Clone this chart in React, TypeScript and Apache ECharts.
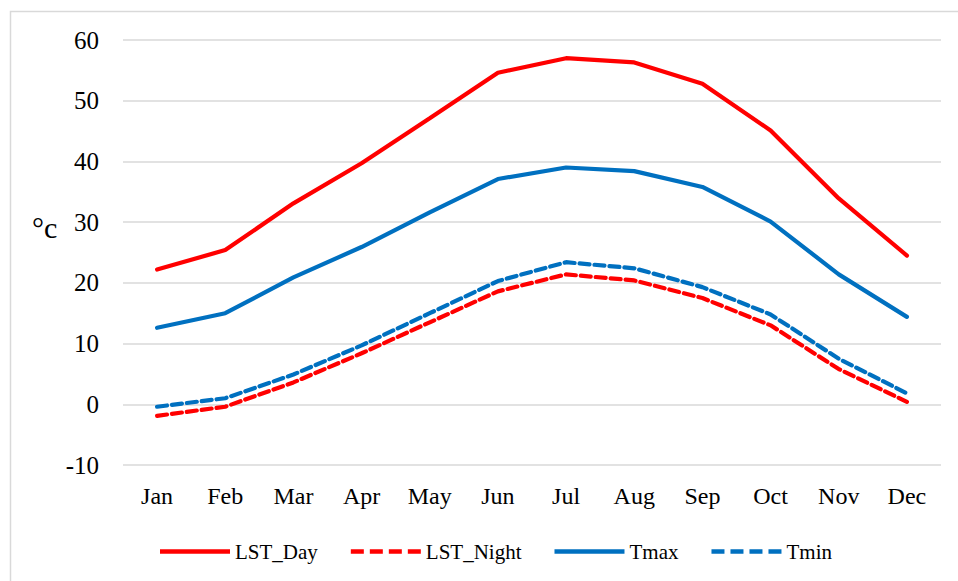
import React, { useEffect, useRef } from "react";
import * as echarts from "echarts";

const months = ["Jan", "Feb", "Mar", "Apr", "May", "Jun", "Jul", "Aug", "Sep", "Oct", "Nov", "Dec"];
const lstDay = [22.2, 25.4, 33.1, 39.7, 47.1, 54.6, 57.0, 56.3, 52.8, 45.1, 33.9, 24.5];
const lstNight = [-1.9, -0.4, 3.6, 8.4, 13.5, 18.6, 21.4, 20.4, 17.5, 13.0, 5.8, 0.4];
const tmax = [12.6, 15.0, 20.9, 25.9, 31.6, 37.1, 39.0, 38.4, 35.8, 30.1, 21.4, 14.4];
const tmin = [-0.4, 1.0, 4.9, 9.7, 15.0, 20.3, 23.4, 22.4, 19.3, 14.8, 7.5, 1.8];
const unitLabel = "°c";

const FONT = "Liberation Serif, Times New Roman, serif";
const RED = "#FF0000";
const BLUE = "#0070C0";
const SOLID_ICON = "path://M0,0H70V4.5H0Z";
const DASH_ICON = "path://M0,0H13V4.5H0Z M19,0H32V4.5H19Z M38,0H51V4.5H38Z M57,0H70V4.5H57Z";

export default function App() {
  const ref = useRef<HTMLDivElement>(null);
  useEffect(() => {
    if (!ref.current) return;
    const chart = echarts.init(ref.current, undefined, { renderer: "svg" });
    const mk = (name: string, data: number[], color: string, dashed: boolean) => ({
      name,
      type: "line",
      data,
      symbol: "none",
      smooth: false,
      lineStyle: { color, width: 4.2, type: dashed ? [10, 5] : "solid", cap: "round" },
      itemStyle: { color },
    });
    chart.setOption({
      animation: false,
      backgroundColor: "#ffffff",
      textStyle: { fontFamily: FONT },
      graphic: [
        {
          type: "rect",
          shape: { x: 10.5, y: 11.5, width: 960, height: 590 },
          style: { fill: "none", stroke: "#d9d9d9", lineWidth: 1.5 },
          silent: true,
        },
        {
          type: "text",
          left: 32,
          top: 212,
          style: { text: unitLabel, fontFamily: FONT, fontSize: 30, fill: "#000" },
        },
      ],
      grid: { left: 123, right: 17, top: 40, bottom: 116, containLabel: false },
      legend: {
        left: 155,
        top: 536,
        itemWidth: 70,
        itemHeight: 4.5,
        itemGap: 33,
        textStyle: { fontFamily: FONT, fontSize: 21, color: "#000" },
        data: [
          { name: "LST_Day", icon: SOLID_ICON },
          { name: "LST_Night", icon: DASH_ICON },
          { name: "Tmax", icon: SOLID_ICON },
          { name: "Tmin", icon: DASH_ICON },
        ],
      },
      xAxis: {
        type: "category",
        data: months,
        boundaryGap: true,
        axisLine: { show: false },
        axisTick: { show: false },
        axisLabel: { fontFamily: FONT, fontSize: 24, color: "#000", margin: 19 },
      },
      yAxis: {
        type: "value",
        min: -10,
        max: 60,
        interval: 10,
        axisLine: { show: false },
        axisTick: { show: false },
        axisLabel: { fontFamily: FONT, fontSize: 25, color: "#000", margin: 24 },
        splitLine: { lineStyle: { color: "#d9d9d9", width: 1.5 } },
      },
      series: [
        mk("LST_Day", lstDay, RED, false),
        mk("LST_Night", lstNight, RED, true),
        mk("Tmax", tmax, BLUE, false),
        mk("Tmin", tmin, BLUE, true),
      ],
    });
    return () => chart.dispose();
  }, []);
  return (
    <div
      ref={ref}
      style={{ position: "absolute", left: 0, top: 0, width: 958, height: 581 }}
    />
  );
}
